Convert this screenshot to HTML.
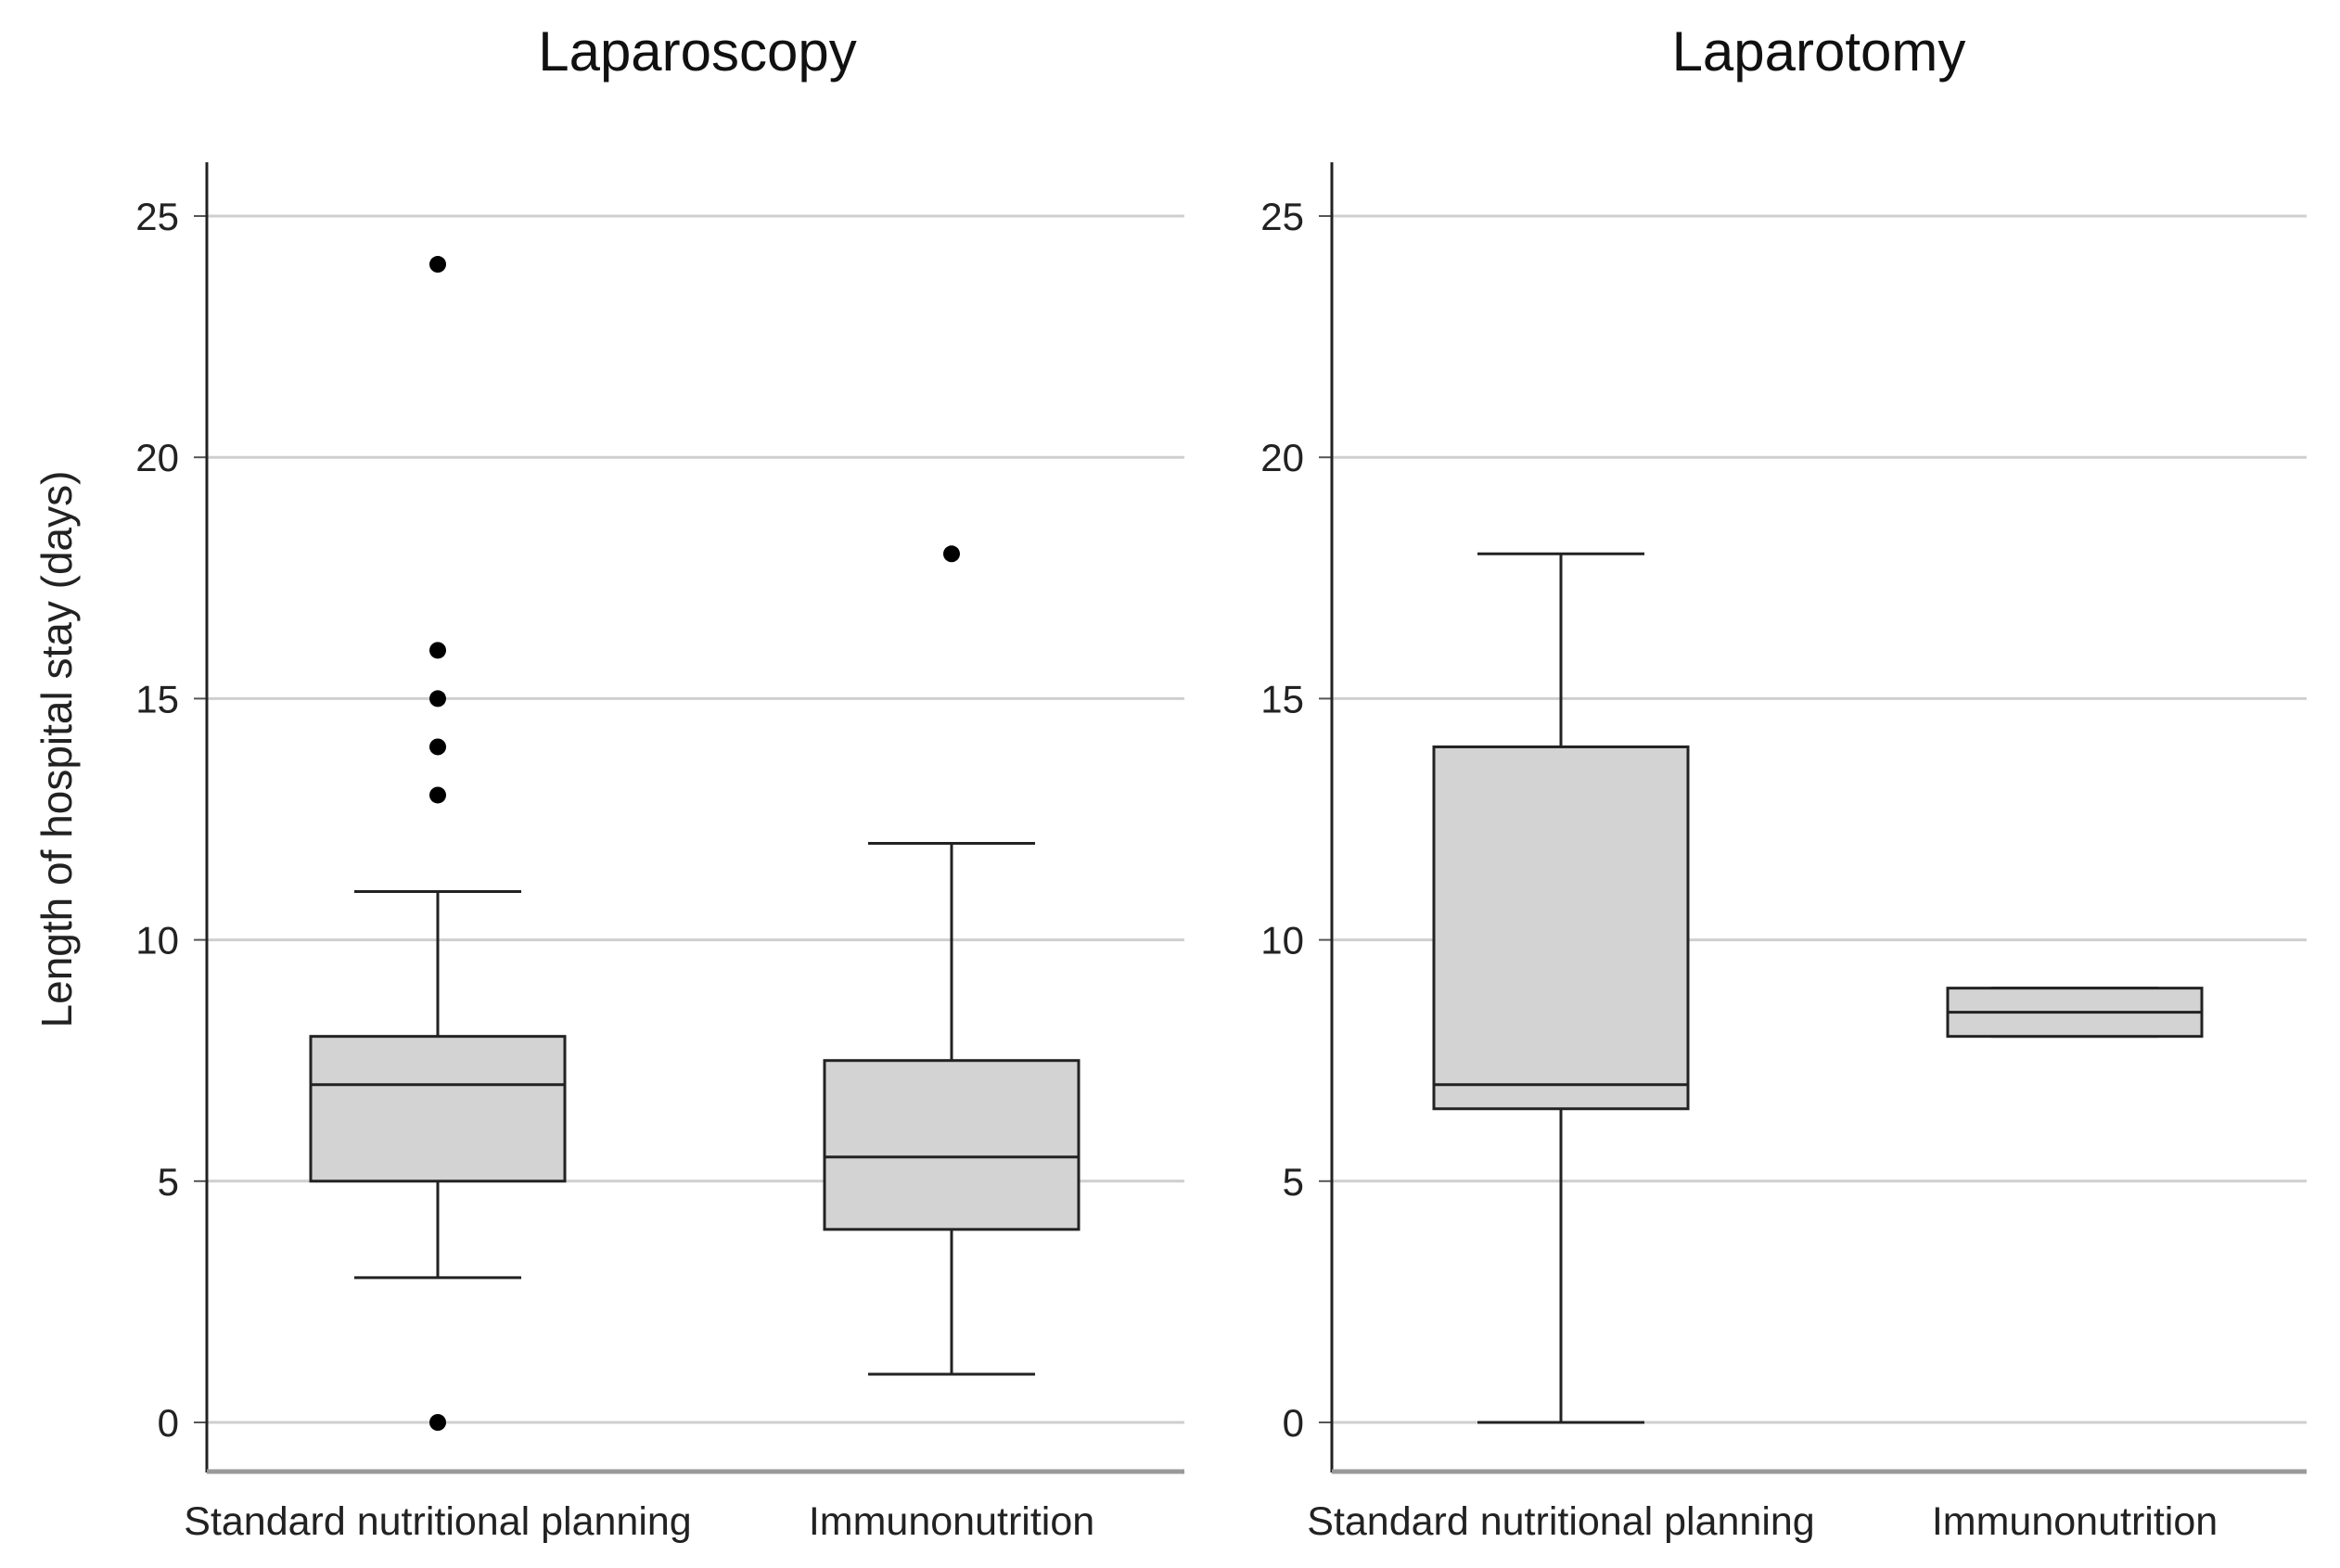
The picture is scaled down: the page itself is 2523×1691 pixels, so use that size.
<!DOCTYPE html>
<html><head><meta charset="utf-8"><style>
html,body{margin:0;padding:0;background:#fff;}
svg{display:block;font-family:"Liberation Sans",Arial,sans-serif;}
</style></head><body>
<svg id="chart" width="2523" height="1691" viewBox="0 0 2523 1691" xmlns="http://www.w3.org/2000/svg"></svg>
<script>
const panelTitles = ["Laparoscopy", "Laparotomy"];
const categories = ["Standard nutritional planning", "Immunonutrition"];
const yTicks = [0, 5, 10, 15, 20, 25];
// [whiskerLow, q1, median, q3, whiskerHigh]
const laparoscopyStandard = [3, 5, 7, 8, 11];
const laparoscopyImmuno = [1, 4, 5.5, 7.5, 12];
const laparotomyStandard = [0, 6.5, 7, 14, 18];
const laparotomyImmuno = [8, 8, 8.5, 9, 9];
const laparoscopyStandardOutliers = [24, 16, 15, 14, 13, 0];
const laparoscopyImmunoOutliers = [18];
const laparotomyStandardOutliers = [];
const laparotomyImmunoOutliers = [];

const svg = document.getElementById('chart');
const NS = 'http://www.w3.org/2000/svg';
function mk(tag, attrs, parent) {
  const e = document.createElementNS(NS, tag);
  for (const k in attrs) e.setAttribute(k, attrs[k]);
  (parent || svg).appendChild(e);
  return e;
}
const y0 = 1534, y25 = 233;
function yScale(v) { return y0 - (v / 25) * (y0 - y25); }

const panels = [
  {axisX: 223, right: 1277, centers: [472, 1026], titleX: 752,
   stats: [laparoscopyStandard, laparoscopyImmuno], outs: [laparoscopyStandardOutliers, laparoscopyImmunoOutliers]},
  {axisX: 1436, right: 2487, centers: [1683, 2237], titleX: 1961,
   stats: [laparotomyStandard, laparotomyImmuno], outs: [laparotomyStandardOutliers, laparotomyImmunoOutliers]}
];
const boxHalf = 137, capHalf = 90;

panels.forEach((p, pi) => {
  const g = mk('g', {});
  
  
  const t = mk('text', {x: p.titleX, y: 76, 'text-anchor': 'middle', 'font-size': 60, fill: '#111'}, g);
  t.textContent = panelTitles[pi];
  
  
  yTicks.forEach(v => {
    const yy = yScale(v);
    const gl = mk('line', {x1: p.axisX, x2: p.right, y1: yy, y2: yy, stroke: '#cfcfcf', 'stroke-width': 3}, g);
    
    
    const tk = mk('line', {x1: p.axisX - 14, x2: p.axisX, y1: yy, y2: yy, stroke: '#555', 'stroke-width': 2}, g);
    
    
    const tl = mk('text', {x: p.axisX - 30, y: yy + 15, 'text-anchor': 'end', 'font-size': 42, fill: '#222'}, g);
    tl.textContent = v;
    
    
  });
  const ax = mk('line', {x1: p.axisX, x2: p.axisX, y1: 175, y2: 1588, stroke: '#222', 'stroke-width': 3}, g);
  
  
  const bx = mk('line', {x1: p.axisX, x2: p.right, y1: 1587, y2: 1587, stroke: '#999', 'stroke-width': 5}, g);
  
  
  categories.forEach((c, ci) => {
    const cx = p.centers[ci];
    const s = p.stats[ci];
    const lab = mk('text', {x: cx, y: 1655, 'text-anchor': 'middle', 'font-size': 43, fill: '#222'}, g);
    lab.textContent = c;
    
    
    const st = '#222';
    const w1 = mk('line', {x1: cx, x2: cx, y1: yScale(s[0]), y2: yScale(s[1]), stroke: st, 'stroke-width': 3}, g);
    
    
    const w2 = mk('line', {x1: cx, x2: cx, y1: yScale(s[3]), y2: yScale(s[4]), stroke: st, 'stroke-width': 3}, g);
    
    
    const c1 = mk('line', {x1: cx - capHalf, x2: cx + capHalf, y1: yScale(s[0]), y2: yScale(s[0]), stroke: st, 'stroke-width': 3}, g);
    
    
    const c2 = mk('line', {x1: cx - capHalf, x2: cx + capHalf, y1: yScale(s[4]), y2: yScale(s[4]), stroke: st, 'stroke-width': 3}, g);
    
    
    const r = mk('rect', {x: cx - boxHalf, y: yScale(s[3]), width: boxHalf * 2, height: yScale(s[1]) - yScale(s[3]), fill: '#d3d3d3', stroke: st, 'stroke-width': 3}, g);
    
    
    const m = mk('line', {x1: cx - boxHalf, x2: cx + boxHalf, y1: yScale(s[2]), y2: yScale(s[2]), stroke: st, 'stroke-width': 3}, g);
    
    
    p.outs[ci].forEach(o => {
      const d = mk('circle', {cx: cx, cy: yScale(o), r: 9, fill: '#000'}, g);
      
      
    });
  });
});
const yt = mk('text', {x: 0, y: 0, 'text-anchor': 'middle', 'font-size': 46, fill: '#222', transform: 'translate(77,808) rotate(-90)'});
yt.textContent = 'Length of hospital stay (days)';


</script>
</body></html>
